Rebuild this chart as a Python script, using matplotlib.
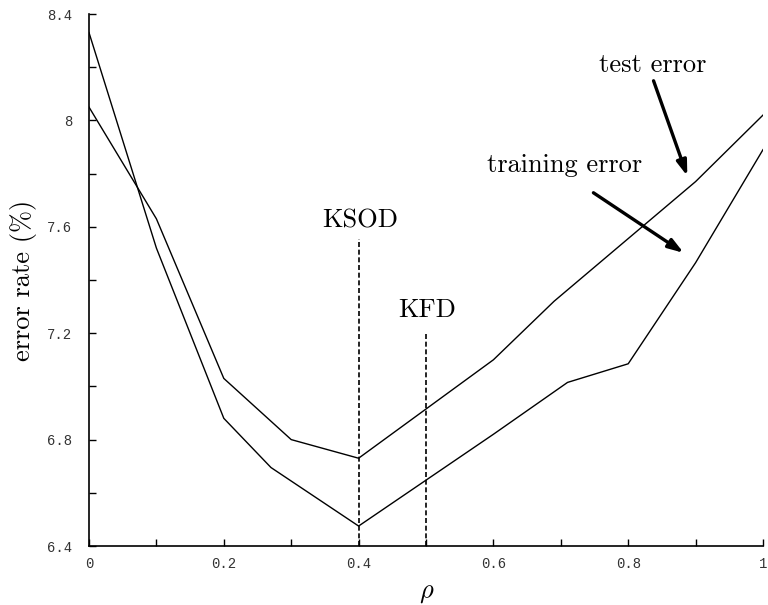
import matplotlib
matplotlib.use('Agg')
import matplotlib.pyplot as plt
from matplotlib.ticker import MultipleLocator, FixedLocator

plt.rcParams['mathtext.fontset'] = 'cm'

# данные
rho_test = [0.0, 0.1, 0.2, 0.3, 0.4, 0.6, 0.69, 0.9, 1.0]
test_err = [8.05, 7.63, 7.03, 6.80, 6.73, 7.10, 7.32, 7.77, 8.02]

rho_train = [0.0, 0.1, 0.2, 0.27, 0.4, 0.6, 0.71, 0.8, 0.9, 1.0]
train_err = [8.33, 7.52, 6.88, 6.695, 6.475, 6.82, 7.015, 7.085, 7.465, 7.89]

# отметки методов
marks = ['KSOD', 'KFD']
mark_rho = [0.4, 0.5]
mark_top = [7.553, 7.206]

yticks = [6.4, 6.8, 7.2, 7.6, 8.0, 8.4]
ytick_labels = ['6.4', '6.8', '7.2', '7.6', '8', '8.4']
xticks = [0.0, 0.2, 0.4, 0.6, 0.8, 1.0]
xtick_labels = ['0', '0.2', '0.4', '0.6', '0.8', '1']

serif = 'cmr10'
mono = 'Liberation Mono'

fig = plt.figure(figsize=(7.68, 6.05), dpi=100)
ax = fig.add_axes([89 / 768, 1 - 546 / 605, 674 / 768, 532 / 605])

ax.plot(rho_test, test_err, color='black', lw=1.0)
ax.plot(rho_train, train_err, color='black', lw=1.0)

for name, r, top in zip(marks, mark_rho, mark_top):
    ax.vlines(r, 6.4, top, colors='black', linestyles=(0, (3, 1.6)), lw=1.2)

ax.text(0.402, 7.598, 'KSOD', fontfamily=serif, fontsize=19, ha='center', va='baseline')
ax.text(0.501, 7.262, 'KFD', fontfamily=serif, fontsize=19, ha='center', va='baseline')
ax.text(0.8365, 8.182, 'test error', fontfamily=serif, fontsize=19, ha='center', va='baseline')
ax.text(0.7063, 7.806, 'training error', fontfamily=serif, fontsize=19, ha='center', va='baseline')

arrow = dict(arrowstyle='-|>,head_length=0.9,head_width=0.3', color='black', lw=2.4,
             shrinkA=0, shrinkB=0)
ax.annotate('', xy=(0.8877, 7.791), xytext=(0.8376, 8.149), arrowprops=arrow)
ax.annotate('', xy=(0.8823, 7.502), xytext=(0.7484, 7.728), arrowprops=arrow)

ax.set_xlim(0, 1)
ax.set_ylim(6.4, 8.4)

for side in ['top', 'right']:
    ax.spines[side].set_visible(False)
for side in ['left', 'bottom']:
    ax.spines[side].set_linewidth(1.2)

ax.xaxis.set_major_locator(FixedLocator(xticks))
ax.set_xticklabels(xtick_labels)
ax.xaxis.set_minor_locator(MultipleLocator(0.1))
ax.yaxis.set_major_locator(FixedLocator(yticks))
ax.set_yticklabels(ytick_labels)
ax.yaxis.set_minor_locator(MultipleLocator(0.2))

ax.tick_params(which='both', direction='in', length=5, width=1.0, colors='black')
ax.tick_params(axis='y', which='major', pad=12)
ax.tick_params(axis='x', which='major', pad=8)
for lab in ax.get_xticklabels() + ax.get_yticklabels():
    lab.set_fontfamily(mono)
    lab.set_fontsize(10)
    lab.set_color('#333333')

fig.text(24 / 768, 1 - 280 / 605, 'error rate (%)', fontfamily=serif, fontsize=19,
         rotation=90, ha='center', va='center')
fig.text(427 / 768, 1 - 592 / 605, r'$\rho$', fontsize=19, ha='center', va='center')

fig.savefig('out.png', dpi=100)
